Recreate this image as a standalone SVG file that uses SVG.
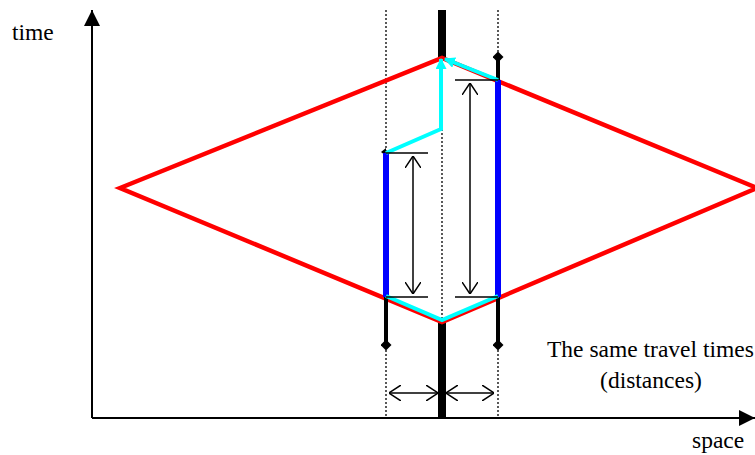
<svg xmlns="http://www.w3.org/2000/svg" width="755" height="455" viewBox="0 0 755 455">
<style>
.ax{stroke:#000;stroke-width:2;fill:none}
.dot{stroke:#000;stroke-width:1.3;stroke-dasharray:2 2;fill:none}
.red{stroke:#ff0000;stroke-width:4.5;fill:none;stroke-linejoin:miter}
.blue{stroke:#0000ff;stroke-width:6;fill:none}
.cyan{stroke:#00ffff;stroke-width:4;fill:none;stroke-linejoin:miter}
.blk{stroke:#000;stroke-width:4;fill:none}
.tick{stroke:#000;stroke-width:1.5;fill:none}
.dim{stroke:#000;stroke-width:1.5;fill:none}
.txt{font-family:"Liberation Serif","Times New Roman",serif;font-size:23.5px;fill:#000}
</style>
<defs>
<marker id="ah" viewBox="0 0 10 10" refX="10" refY="5" markerWidth="16" markerHeight="16" markerUnits="userSpaceOnUse" orient="auto">
<path d="M0,0 L10,5 L0,10 Z" fill="#000"/>
</marker>
<marker id="open" viewBox="0 0 12 16" refX="12" refY="8" markerWidth="12" markerHeight="16" markerUnits="userSpaceOnUse" orient="auto-start-reverse">
<path d="M0,0 L12,8 L0,16" fill="none" stroke="#000" stroke-width="1.5"/>
</marker>
<marker id="ca" viewBox="0 0 10 10" refX="9" refY="5" markerWidth="11" markerHeight="11" markerUnits="userSpaceOnUse" orient="auto">
<path d="M0,0 L10,5 L0,10 Z" fill="#00ffff"/>
</marker>
<marker id="dm" viewBox="0 0 10 10" refX="5" refY="5" markerWidth="11" markerHeight="11" markerUnits="userSpaceOnUse" orient="auto">
<path d="M5,0 L10,5 L5,10 L0,5 Z" fill="#000"/>
</marker>
</defs>
<rect width="755" height="455" fill="#fff"/>
<g id="axes">
<line class="ax" x1="92" y1="418" x2="92" y2="10" marker-end="url(#ah)"/>
<line class="ax" x1="92" y1="418" x2="755" y2="418" marker-end="url(#ah)"/>
</g>
<g id="guides">
<line class="dot" x1="386" y1="10" x2="386" y2="417"/>
<line class="dot" x1="498" y1="10" x2="498" y2="417"/>
<line class="dot" x1="442" y1="57" x2="442" y2="322"/>
</g>
<g id="center">
<line x1="442" y1="10" x2="442" y2="58" stroke="#000" stroke-width="8"/>
<line x1="442" y1="321" x2="442" y2="418" stroke="#000" stroke-width="8"/>
</g>
<g id="diamond">
<polygon class="red" points="120,188 442,58 757,188 442,322"/>
</g>
<g id="stubs">
<line class="blk" x1="386" y1="297" x2="386" y2="345" marker-end="url(#dm)"/>
<line class="blk" x1="498" y1="297" x2="498" y2="345" marker-end="url(#dm)"/>
<line class="blk" x1="498" y1="80" x2="498" y2="57" marker-end="url(#dm)"/>
<path d="M381,152 L386,148 L386,156 Z" fill="#000"/>
</g>
<g id="blue">
<line class="blue" x1="386" y1="153" x2="386" y2="297"/>
<line class="blue" x1="498" y1="80" x2="498" y2="297"/>
</g>
<g id="cyan">
<polyline class="cyan" points="386,296 442,320 498,296"/>
<polyline class="cyan" points="386,153 441,129 441,59" marker-end="url(#ca)"/>
<line class="cyan" x1="498" y1="80" x2="445" y2="59" marker-end="url(#ca)"/>
</g>
<g id="measures">
<line class="tick" x1="386" y1="153" x2="428" y2="153"/>
<line class="tick" x1="386" y1="297" x2="428" y2="297"/>
<line class="tick" x1="455" y1="80" x2="498" y2="80"/>
<line class="tick" x1="455" y1="297" x2="498" y2="297"/>
<line class="dim" x1="413" y1="156" x2="413" y2="294" marker-start="url(#open)" marker-end="url(#open)"/>
<line class="dim" x1="470" y1="83" x2="470" y2="294" marker-start="url(#open)" marker-end="url(#open)"/>
<line class="dim" x1="389" y1="393" x2="438" y2="393" marker-start="url(#open)" marker-end="url(#open)"/>
<line class="dim" x1="446" y1="393" x2="494" y2="393" marker-start="url(#open)" marker-end="url(#open)"/>
</g>
<g id="labels">
<text class="txt" x="12" y="40">time</text>
<text class="txt" x="692" y="448">space</text>
<text class="txt" x="547" y="357">The same travel times</text>
<text class="txt" x="651" y="388" text-anchor="middle">(distances)</text>
</g>
</svg>
